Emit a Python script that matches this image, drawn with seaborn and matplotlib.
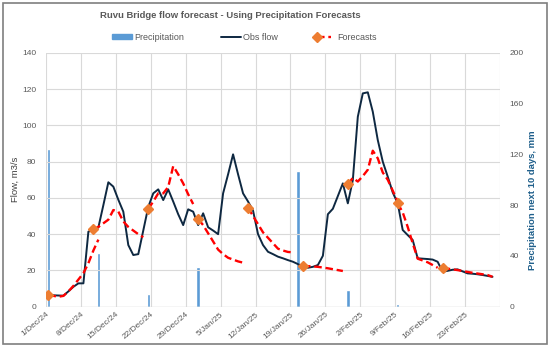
import numpy as np
import pandas as pd
import matplotlib
matplotlib.use("Agg")
import matplotlib.pyplot as plt
import seaborn as sns
from matplotlib.lines import Line2D
from matplotlib.patches import Patch, Rectangle
from matplotlib.legend_handler import HandlerLine2D

# --- Data ---
start = pd.Timestamp("2024-12-01")
dates = pd.date_range(start, periods=90, freq="D")

obs_flow = [
    6.4, 6.3, 6.2, 6.1, 8.5, 11.0, 12.9, 12.9, 41.4, 42.3,
    43.7, 56.0, 68.6, 66.2, 59.0, 52.4, 34.0, 28.5, 29.0, 42.0,
    55.0, 62.5, 64.7, 58.8, 64.7, 58.0, 51.0, 45.0, 53.7, 52.4,
    45.0, 51.5, 43.8, 42.0, 40.0, 62.5, 73.0, 84.0, 73.0, 62.5,
    58.0, 53.0, 40.0, 34.0, 30.3, 29.0, 27.6, 26.7, 25.7, 24.8,
    23.5, 22.0, 21.5, 22.0, 23.0, 28.1, 51.0, 54.0, 61.0, 68.0,
    57.0, 69.8, 104.7, 117.6, 118.2, 107.5, 91.9, 80.0, 71.7, 63.0,
    57.0, 42.3, 39.5, 36.8, 26.7, 26.5, 26.3, 26.0, 24.8, 19.3,
    19.8, 20.4, 20.6, 19.5, 18.4, 18.2, 17.9, 17.5, 17.0, 16.5,
]

# precipitation forecast for the next 10 days (mm), issued every 10 days
precip_days = [0, 10, 20, 30, 40, 50, 60, 70, 80]
precip_mm = [124, 42, 10, 31, 0, 107, 13, 2, 0]

# flow forecast runs: start day + daily values
fc_start = [0, 9, 20, 30, 40, 51, 60, 70, 79]
fc_values = [
    [6.4, 6.0, 5.5, 6.0, 8.5, 11.5, 15.0, 18.5, 24.0, 31.0, 37.0],
    [42.7, 44.0, 46.0, 48.0, 53.3, 52.5, 47.0, 44.0, 42.0, 40.0, 38.3],
    [53.9, 58.0, 62.5, 62.5, 66.0, 77.5, 73.0, 68.0, 62.0, 56.6],
    [48.3, 45.0, 40.5, 36.0, 31.5, 29.0, 27.0, 26.0, 25.0, 24.3],
    [54.6, 50.0, 45.5, 41.0, 38.0, 35.0, 32.0, 31.0, 30.2, 30.0],
    [22.6, 22.4, 22.2, 22.0, 21.6, 21.2, 20.7, 20.2, 19.7],
    [67.6, 71.0, 69.0, 72.0, 75.5, 86.0, 81.8, 74.0, 70.0, 64.0, 58.0],
    [57.0, 52.0, 44.0, 35.0, 26.5, 25.5, 24.5, 23.0, 21.5],
    [21.2, 21.0, 20.6, 20.2, 19.7, 19.2, 18.7, 18.3, 17.9, 17.5, 16.5],
]

tick_labels = ["1/Dec/24", "8/Dec/24", "15/Dec/24", "22/Dec/24", "29/Dec/24",
               "5/Jan/25", "12/Jan/25", "19/Jan/25", "26/Jan/25", "2/Feb/25",
               "9/Feb/25", "16/Feb/25", "23/Feb/25", ""]

# --- Style ---
sns.set_theme(style="white")
plt.rcParams["font.family"] = ["Liberation Sans Narrow", "Liberation Sans", "DejaVu Sans"]

GRAY = "#595959"
GRID = "#D9D9D9"
half = pd.Timedelta(hours=12)

fig = plt.figure(figsize=(5.5, 3.47), dpi=100)
ax = fig.add_axes([0.0836, 0.116, 0.8255, 0.732])
ax2 = ax.twinx()
ax.set_zorder(ax2.get_zorder() + 1)
ax.patch.set_visible(False)

# precipitation bars (secondary axis, behind lines)
pdates = [start + pd.Timedelta(days=d) for d in precip_days]
ax2.bar(pdates, precip_mm, width=0.7, color="#5B9BD5", zorder=2)

# observed flow
sns.lineplot(x=dates, y=obs_flow, ax=ax, color="#0E2841", linewidth=1.4, zorder=4)

# forecast runs
for s, vals in zip(fc_start, fc_values):
    fd = pd.date_range(start + pd.Timedelta(days=s), periods=len(vals), freq="D")
    ax.plot(fd, vals, color="red", linestyle=(0, (3.2, 1.6)), linewidth=1.7, zorder=5)
    ax.plot(fd[:1], vals[:1], marker="D", markersize=5, color="#ED7D31",
            linestyle="none", zorder=6)

# axes
tick_dates = pd.date_range(start, periods=14, freq="7D") - half
ax.set_xlim(tick_dates[0], tick_dates[-1])
ax.set_xticks(tick_dates)
ax.set_xticklabels(tick_labels, rotation=40, ha="right", rotation_mode="anchor",
                   fontsize=6, color=GRAY)
ax.set_xlabel("")
ax.set_ylim(0, 140)
ax.set_yticks(range(0, 141, 20))
ax.tick_params(axis="y", labelsize=6, labelcolor=GRAY, length=0, pad=7)
ax.tick_params(axis="x", length=0, pad=3)
ax.grid(True, color=GRID, linewidth=0.8)
ax.set_axisbelow(True)
ax.set_ylabel("Flow, m3/s", fontsize=6.8, color="#404040")
ax.yaxis.set_label_coords(-0.057, 0.5)

ax2.set_ylim(0, 200)
ax2.set_yticks(range(0, 201, 40))
ax2.tick_params(axis="y", labelsize=6, labelcolor=GRAY, length=0, pad=7)
ax2.set_ylabel("Precipitation next 10 days, mm", fontsize=6.8, color="#1F5F8B",
               fontweight="bold")
ax2.yaxis.set_label_coords(1.062, 0.42)
ax2.grid(False)

for a in (ax, ax2):
    for sp in a.spines.values():
        sp.set_visible(False)
ax.axhline(0, color=GRID, linewidth=1, zorder=1)


# legend: marker at the left end of the forecast line
class FirstMarker(HandlerLine2D):
    def create_artists(self, *args, **kwargs):
        arts = super().create_artists(*args, **kwargs)
        for a in arts:
            a.set_markevery([0])
        return arts


h_prec = Patch(color="#5B9BD5")
h_obs = Line2D([], [], color="#0E2841", linewidth=1.4)
h_fc = Line2D([], [], color="red", linestyle=(0, (3.2, 1.6)), linewidth=1.7,
              marker="D", markersize=5, markerfacecolor="#ED7D31",
              markeredgecolor="#ED7D31")
fig.legend([h_prec, h_obs, h_fc], ["Precipitation", "Obs flow", "Forecasts"],
           loc="center", bbox_to_anchor=(0.444, 0.893), ncol=3, frameon=False,
           fontsize=6.5, labelcolor=GRAY, handlelength=2.2, handletextpad=0.3,
           columnspacing=4.0, handleheight=0.5,
           handler_map={h_fc: FirstMarker(numpoints=2)})

fig.text(0.418, 0.955, "Ruvu Bridge flow forecast - Using Precipitation Forecasts",
         ha="center", va="center", fontsize=6.8, fontweight="bold", color=GRAY)

# outer chart border
fig.patches.append(Rectangle((0.006, 0.01), 0.988, 0.98, transform=fig.transFigure,
                             fill=False, edgecolor="#7F7F7F", linewidth=1.2))

fig.savefig("out.png", dpi=100)
